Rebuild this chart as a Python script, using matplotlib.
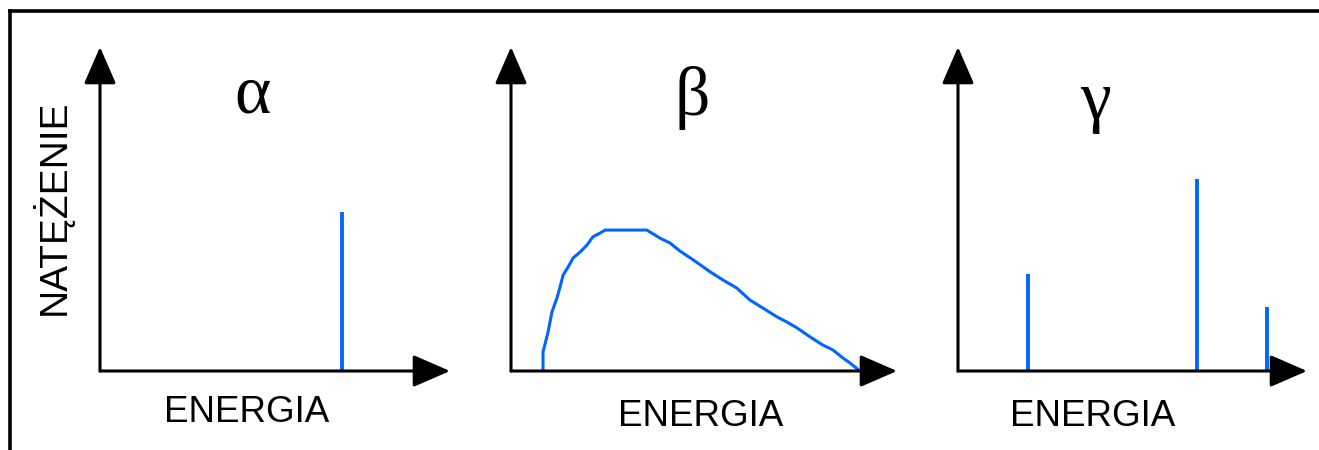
import matplotlib
matplotlib.use("Agg")
import matplotlib.pyplot as plt
from matplotlib.lines import Line2D

# Energy spectra of alpha, beta and gamma radiation (arbitrary units, 0-10)
alpha_energy = [6.9]
alpha_intensity = [4.9]

beta_energy = [0.83, 0.83, 0.96, 1.06, 1.19, 1.27, 1.35, 1.48, 1.61, 1.79, 1.97,
               2.12, 2.31, 2.44, 3.52, 3.86, 4.12, 4.38, 4.72, 5.16, 5.49, 5.85,
               6.19, 6.53, 6.89, 7.15, 7.41, 7.75, 8.08, 8.34, 8.60, 8.78, 9.04]
beta_intensity = [0.0, 0.59, 1.20, 1.82, 2.25, 2.59, 2.96, 3.21, 3.49, 3.67, 3.89,
                  4.14, 4.26, 4.35, 4.35, 4.10, 3.95, 3.70, 3.43, 3.06, 2.81, 2.56,
                  2.19, 1.94, 1.67, 1.51, 1.33, 1.05, 0.80, 0.65, 0.40, 0.25, 0.0]

gamma_energy = [2.0, 6.85, 8.85]
gamma_intensity = [3.0, 5.93, 1.98]

titles = ["\u03b1", "\u03b2", "\u03b3"]
xlabel = "ENERGIA"
ylabel = "NAT\u0118\u017bENIE"

blue = "#0066ff"
W, H = 1319, 450

fig = plt.figure(figsize=(W / 100, H / 100), dpi=100)
fig.patch.set_facecolor("white")

# frame along the left and top edges
fig.add_artist(Line2D([10 / W, 10 / W], [0, 1 - 11 / H], color="black", lw=2.6,
                      transform=fig.transFigure))
fig.add_artist(Line2D([10 / W, 1], [1 - 11 / H, 1 - 11 / H], color="black", lw=2.6,
                      transform=fig.transFigure))

# panel boxes in pixels: (left, right); all share bottom=371, top=47
panels = [(100, 450), (511, 897), (958, 1307)]
axes = []
for left, right in panels:
    ax = fig.add_axes([left / W, (H - 371) / H, (right - left) / W, 324 / H])
    ax.set_xlim(0, 10)
    ax.set_ylim(0, 10)
    ax.axis("off")
    arrow = dict(arrowstyle="-|>,head_length=2.3,head_width=1.0", lw=2.2,
                 color="black", shrinkA=0, shrinkB=0, mutation_scale=10)
    ax.annotate("", xy=(0, 1), xytext=(0, 0), xycoords="axes fraction",
                textcoords="axes fraction", arrowprops=arrow)
    ax.annotate("", xy=(1, 0), xytext=(0, 0), xycoords="axes fraction",
                textcoords="axes fraction", arrowprops=arrow)
    axes.append(ax)

ax1, ax2, ax3 = axes

ax1.vlines(alpha_energy, 0, alpha_intensity, color=blue, lw=2.8)
ax2.plot(beta_energy, beta_intensity, color=blue, lw=2.2)
ax3.vlines(gamma_energy, 0, gamma_intensity, color=blue, lw=2.8)

title_pos = [(0.437, 0.85), (0.469, 0.843), (0.395, 0.83)]
label_pos = [(0.42, -0.127), (0.492, -0.139), (0.387, -0.139)]
for ax, t, (tx, ty), (lx, ly) in zip(axes, titles, title_pos, label_pos):
    ax.text(tx, ty, t, transform=ax.transAxes, ha="center", va="center",
            fontsize=50, family="Liberation Serif")
    ax.text(lx, ly, xlabel, transform=ax.transAxes, ha="center", va="center",
            fontsize=26.5, family="Liberation Sans")

ax1.text(-0.137, 0.506, ylabel, transform=ax1.transAxes, ha="center", va="center",
         rotation=90, fontsize=28, family="Liberation Sans")

fig.savefig("out.png", dpi=100, facecolor="white")
